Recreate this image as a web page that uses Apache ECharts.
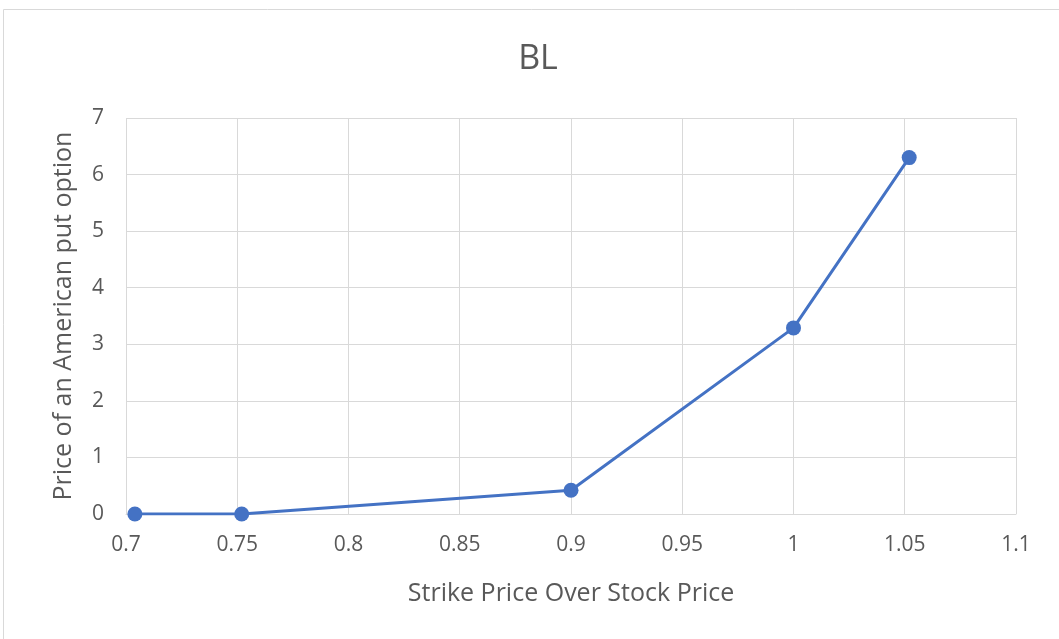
<!DOCTYPE html>
<html><head><meta charset="utf-8">
<script src="https://cdn.jsdelivr.net/npm/echarts@6/dist/echarts.min.js"></script>
<style>html,body{margin:0;padding:0;background:#fff}#c{width:1059px;height:639px}</style>
</head><body><div id="c"></div>
<script>
const title = 'BL';
const xName = 'Strike Price Over Stock Price';
const yName = 'Price of an American put option';
const xValues = [0.704, 0.752, 0.9, 1.0, 1.052];
const yValues = [0.0, 0.0, 0.42, 3.29, 6.30];

const font = '"Open Sans", sans-serif';
const chart = echarts.init(document.getElementById('c'));
chart.setOption({
  animation: false,
  backgroundColor: '#fff',
  graphic: [
    {type: 'rect', shape: {x: 3.5, y: 9.5, width: 1200, height: 800}, style: {fill: 'none', stroke: '#d9d9d9', lineWidth: 1}, silent: true},
    {type: 'text', x: 538, y: 59, style: {text: title, font: '34px "Open Sans", sans-serif', fill: '#595959', textAlign: 'center', textVerticalAlign: 'middle'}, silent: true}
  ],
  grid: {left: 126, right: 43, top: 118, bottom: 125},
  xAxis: {
    type: 'value', min: 0.7, max: 1.1, interval: 0.05,
    name: xName, nameLocation: 'middle', nameGap: 67,
    nameTextStyle: {fontFamily: font, fontSize: 25, color: '#595959'},
    axisLine: {show: true, lineStyle: {color: '#d9d9d9', width: 1}},
    axisTick: {show: false},
    splitLine: {show: true, lineStyle: {color: '#d9d9d9', width: 1}},
    axisLabel: {fontFamily: font, fontSize: 21, color: '#595959', margin: 21,
      formatter: v => String(Math.round(v * 100) / 100)}
  },
  yAxis: {
    type: 'value', min: 0, max: 7, interval: 1,
    name: yName, nameLocation: 'middle', nameGap: 50, nameRotate: 90,
    nameTextStyle: {fontFamily: font, fontSize: 25, color: '#595959'},
    axisLine: {show: false}, axisTick: {show: false},
    splitLine: {show: true, lineStyle: {color: '#d9d9d9', width: 1}},
    axisLabel: {fontFamily: font, fontSize: 21, color: '#595959', margin: 22}
  },
  series: [{
    type: 'line',
    data: xValues.map((x, i) => [x, yValues[i]]),
    symbol: 'circle', symbolSize: 15,
    lineStyle: {color: '#4472c4', width: 3},
    itemStyle: {color: '#4472c4'}
  }]
});
</script></body></html>
